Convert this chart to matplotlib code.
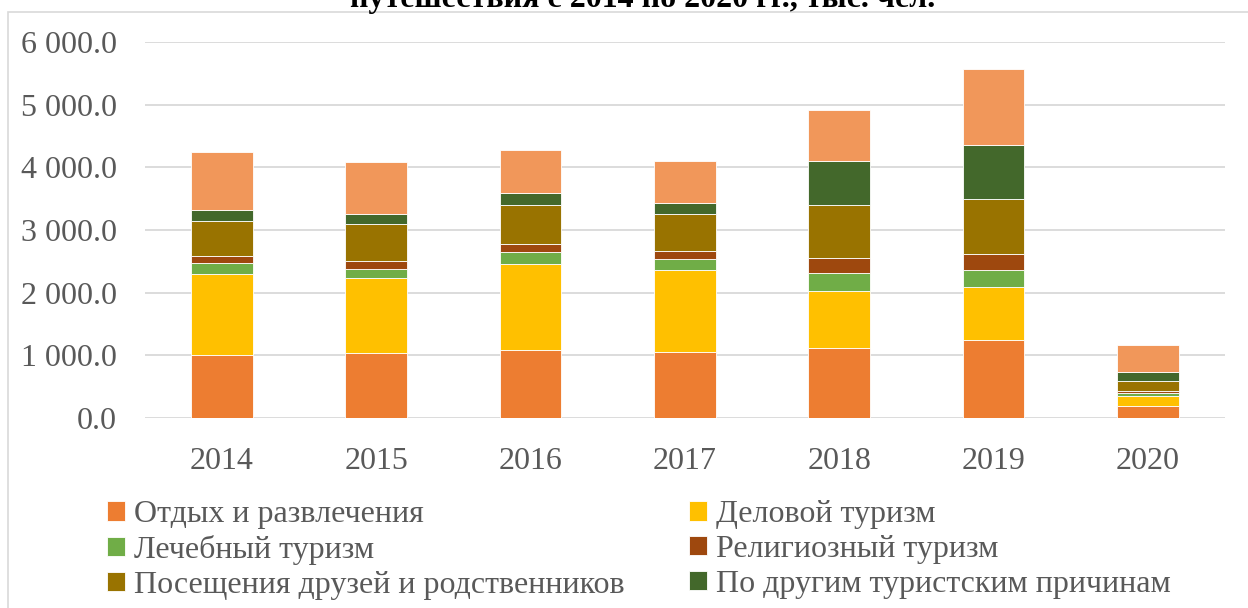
import matplotlib
matplotlib.use('Agg')
import matplotlib.pyplot as plt
from matplotlib.patches import Rectangle
from matplotlib.ticker import FuncFormatter
import numpy as np

plt.rcParams.update({
    'font.family': ['Liberation Serif', 'DejaVu Serif'],
    'font.size': 23,
})

# данные, тыс. чел.
years = ['2014', '2015', '2016', '2017', '2018', '2019', '2020']
rest = [1004, 1042, 1084, 1046, 1110, 1244, 185]
business = [1290, 1184, 1381, 1308, 909, 850, 171]
medical = [175, 144, 187, 187, 298, 266, 43]
religious = [117, 138, 121, 122, 229, 256, 26]
friends = [564, 590, 628, 591, 856, 877, 165]
other_tourist = [169, 153, 185, 180, 691, 855, 148]
top_rest = [930, 839, 696, 670, 819, 1218, 420]

labels = ['Отдых и развлечения', 'Деловой туризм', 'Лечебный туризм',
          'Религиозный туризм', 'Посещения друзей и родственников',
          'По другим туристским причинам']
colors = ['#ED7D31', '#FFC000', '#70AD47', '#9E480E', '#997300', '#43682B', '#F1975A']

series = [rest, business, medical, religious, friends, other_tourist, top_rest]

fig = plt.figure(figsize=(12.48, 6.08), dpi=100)
ax = fig.add_axes([0.116, 0.3125, 0.8656, 0.6185])

x = np.arange(len(years))
bottom = np.zeros(len(years))
handles = []
for vals, col in zip(series, colors):
    b = ax.bar(x, vals, 0.4, bottom=bottom, color=col, edgecolor='#ffffff', linewidth=0.6, zorder=3)
    handles.append(b)
    bottom += np.array(vals)

ax.set_ylim(0, 6000)
ax.set_xlim(-0.5, len(years) - 0.5)
ax.set_yticks(np.arange(0, 6001, 1000))
ax.yaxis.set_major_formatter(FuncFormatter(lambda v, p: f'{v:,.1f}'.replace(',', ' ')))
ax.set_xticks(x)
ax.set_xticklabels(years)
ax.grid(axis='y', color='#d9d9d9', linewidth=1.3, zorder=0)
for s in ax.spines.values():
    s.set_visible(False)
ax.tick_params(axis='both', length=0, colors='#595959', labelsize=23)
ax.tick_params(axis='y', pad=20)
ax.tick_params(axis='x', pad=21)

# легенда: порядок по строкам как в оригинале
order = [0, 2, 4, 1, 3, 5]
fig.legend([handles[i] for i in order], [labels[i] for i in order],
           ncol=2, loc='upper left', bbox_to_anchor=(0.086, 0.177),
           frameon=False, fontsize=23, labelcolor='#595959',
           handlelength=0.55, handleheight=0.55, handletextpad=0.3,
           labelspacing=0.18, columnspacing=2.0, borderaxespad=0, borderpad=0)

# рамка области диаграммы
fig.patches.append(Rectangle((8 / 1248, -0.1), 1.2, 1 - 12 / 608 + 0.1,
                             transform=fig.transFigure, fill=False,
                             edgecolor='#d9d9d9', linewidth=1.2))

fig.text(0.515, 1 - 7 / 608, 'путешествия с 2014 по 2020 гг., тыс. чел.',
         ha='center', va='baseline', fontsize=23, fontweight='bold', color='black')

fig.savefig('out.png', dpi=100)
